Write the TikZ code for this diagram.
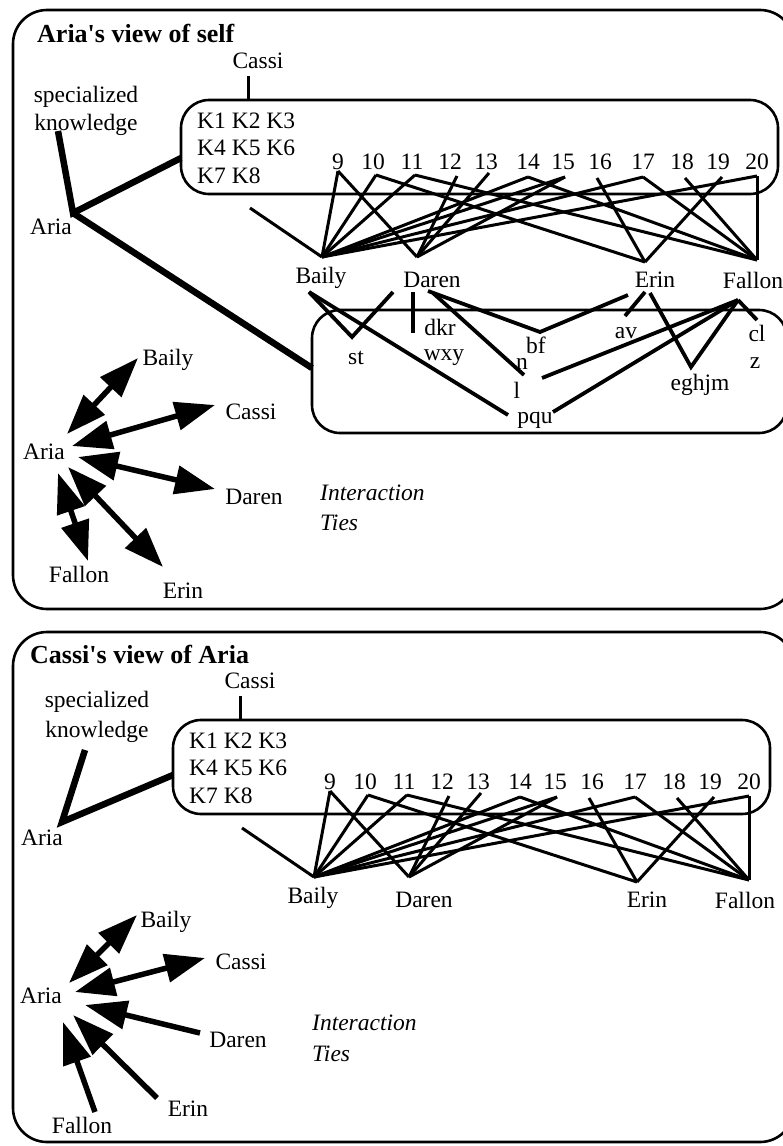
\documentclass[tikz,border=0pt]{standalone}
\usepackage{fontspec}
\setmainfont{Liberation Serif}
\usetikzlibrary{arrows.meta}
\tikzset{
  txt/.style={font=\fontsize{23.5}{26}\selectfont, inner sep=0pt},
  itxt/.style={font=\fontsize{23.5}{26}\selectfont\itshape, inner sep=0pt, anchor=base west},
  ttl/.style={font=\fontsize{26}{28}\selectfont\bfseries, inner sep=0pt, anchor=base west},
  frame/.style={line width=2.6pt, rounded corners=34pt},
  kbox/.style={line width=2.6pt, rounded corners=28pt},
  gline/.style={line width=3pt},
  midline/.style={line width=3.8pt},
  heavy/.style={line width=6.5pt},
  tiearrow/.style={line width=5.5pt, {Triangle[length=40pt,width=28pt]}-{Triangle[length=40pt,width=28pt]}},
  onearrow/.style={line width=5.5pt, -{Triangle[length=42pt,width=28pt]}},
}
\newcommand\kgraph[3]{%
\begin{scope}[shift={(#2,#3)}]
  \node[txt] (#1cassi) at (258,61) {Cassi};
  \coordinate (#1ct) at (248,76);
  \coordinate (#1cb) at (248,100);
  \draw[gline] (#1ct) -- (#1cb);
  \draw[kbox] (181,100) rectangle (778,194);
  \node[txt, anchor=base west] (#1ka) at (197,128) {K1 K2 K3};
  \node[txt, anchor=base west] (#1kb) at (197,155.5) {K4 K5 K6};
  \node[txt, anchor=base west] (#1kc) at (197,183) {K7 K8};
  \foreach \n/\x in {9/338,10/373,11/412,12/450,13/486,14/528,15/563,16/600,17/643,18/682,19/718,20/757}
    \node[txt] (#1n\n) at (\x,162) {\n};
  \coordinate (#1a9) at (338,171);
  \coordinate (#1a10) at (376,175);
  \coordinate (#1a11) at (415,175);
  \coordinate (#1a12) at (457,176);
  \coordinate (#1a13) at (489,173);
  \coordinate (#1a14) at (528,177);
  \coordinate (#1a15) at (565,177);
  \coordinate (#1a16) at (597,178);
  \coordinate (#1a17) at (643,177);
  \coordinate (#1a18) at (685,178);
  \coordinate (#1a19) at (722,177);
  \coordinate (#1a20) at (757,176);
  \coordinate (#1pB) at (322,257);
  \coordinate (#1pD) at (417,257);
  \coordinate (#1pE) at (645,262);
  \coordinate (#1pF) at (757,260);
  \coordinate (#1stub) at (250,208);
  \node[txt] (#1baily) at (321,278) {Baily};
  \node[txt] (#1daren) at (432,280) {Daren};
  \node[txt] (#1erin) at (655,280) {Erin};
  \node[txt] (#1fallon) at (753,280) {Fallon};
  \draw[gline] (#1stub) -- (#1pB);
  \foreach \n/\p in {9/B,10/B,11/B,14/B,15/B,17/B,20/B,9/D,12/D,13/D,15/D,10/E,16/E,19/E,11/F,14/F,17/F,18/F,20/F}
    \draw[gline] (#1a\n) -- (#1p\p);
\end{scope}}
\begin{document}
\begin{tikzpicture}[x=1pt,y=-1pt]
\useasboundingbox (0,0) rectangle (782,1146);
% ---------- top panel ----------
\draw[frame] (13,10) rectangle (794,609);
\node[ttl] (title1) at (37,42) {Aria\textquotesingle s view of self};
\kgraph{t}{0}{0}
\node[txt] (spec1) at (86,97) {specialized};
\node[txt] (know1) at (86,125) {knowledge};
\node[txt] (aria1) at (51,227) {Aria};
\coordinate (ka1) at (58,131);
\coordinate (aa1) at (73,213);
\coordinate (kb1) at (181,158);
\coordinate (lb1) at (312,368);
\draw[heavy] (ka1) -- (aa1) -- (kb1);
\draw[heavy] (aa1) -- (lb1);
% lower box of others' knowledge
\draw[kbox] (312,310) rectangle (787,433);
\node[txt] (st) at (356,358) {st};
\node[txt] (dkr) at (440,327) {dkr};
\node[txt] (wxy) at (444,358) {wxy};
\node[txt] (bf) at (536,345) {bf};
\node[txt] (nn) at (522,364) {n};
\node[txt] (ll) at (517,390) {l};
\node[txt] (av) at (626,333) {av};
\node[txt] (eghjm) at (700,385) {eghjm};
\node[txt] (cl) at (757,333) {cl};
\node[txt] (zz) at (755,363) {z};
\node[txt] (pqu) at (535,420) {pqu};
\coordinate (bb1) at (309,292);
\coordinate (sttip) at (352,337);
\coordinate (db1) at (393,292);
\coordinate (db2) at (413,292);
\coordinate (dkrend) at (413,333);
\coordinate (db3) at (428,291);
\coordinate (db4) at (433,293);
\coordinate (bftip) at (540,332);
\coordinate (eb1) at (628,295);
\coordinate (eb2) at (645,292);
\coordinate (eb3) at (650,293);
\coordinate (avtip) at (625,316);
\coordinate (egtip) at (691,367);
\coordinate (fltip) at (524,375);
\coordinate (fltip2) at (542,378);
\coordinate (pqtip) at (508,415);
\coordinate (pqtip2) at (553,412);
\coordinate (fb) at (738,300);
\coordinate (cltip) at (757,320);
\draw[midline] (bb1) -- (sttip) -- (db1);
\draw[midline] (bb1) -- (pqtip);
\draw[midline] (db2) -- (dkrend);
\draw[midline] (db3) -- (bftip) -- (eb1);
\draw[midline] (db4) -- (fltip);
\draw[midline] (fb) -- (fltip2);
\draw[midline] (eb2) -- (avtip);
\draw[midline] (eb3) -- (egtip) -- (fb);
\draw[midline] (fb) -- (pqtip2);
\draw[midline] (fb) -- (cltip);
% interaction ties
\node[txt] (iaria1) at (44,452) {Aria};
\node[txt] (ibaily1) at (168,360) {Baily};
\node[txt] (icassi1) at (251,412) {Cassi};
\node[txt] (idaren1) at (254,497) {Daren};
\node[txt] (ifallon1) at (79,574) {Fallon};
\node[txt] (ierin1) at (183,591) {Erin};
\node[itxt] (inter1) at (320,500) {Interaction};
\node[itxt] (ties1) at (320,530) {Ties};
\coordinate (tb0) at (67,434); \coordinate (tb1) at (138,358);
\coordinate (tc0) at (72,446); \coordinate (tc1) at (215,405);
\coordinate (td0) at (78,457); \coordinate (td1) at (215,489);
\coordinate (te0) at (68,467); \coordinate (te1) at (163,567);
\coordinate (tf0) at (58,473); \coordinate (tf1) at (88,561);
\draw[tiearrow] (tb0) -- (tb1);
\draw[tiearrow] (tc0) -- (tc1);
\draw[tiearrow] (td0) -- (td1);
\draw[tiearrow] (te0) -- (te1);
\draw[tiearrow] (tf0) -- (tf1);
% ---------- bottom panel ----------
\draw[frame] (13,632) rectangle (794,1142);
\node[ttl] (title2) at (30,663) {Cassi\textquotesingle s view of Aria};
\kgraph{b}{-8}{620}
\node[txt] (spec2) at (97,702) {specialized};
\node[txt] (know2) at (97,732) {knowledge};
\node[txt] (aria2) at (42,838) {Aria};
\coordinate (ka2) at (85,750);
\coordinate (aa2) at (62,822);
\coordinate (kb2) at (173,775);
\draw[heavy] (ka2) -- (aa2) -- (kb2);
\node[txt] (iaria2) at (41,996) {Aria};
\node[txt] (ibaily2) at (166,922) {Baily};
\node[txt] (icassi2) at (241,962) {Cassi};
\node[txt] (idaren2) at (238,1040) {Daren};
\node[txt] (ierin2) at (188,1109) {Erin};
\node[txt] (ifallon2) at (82,1125) {Fallon};
\node[itxt] (inter2) at (312,1030) {Interaction};
\node[itxt] (ties2) at (312,1061) {Ties};
\coordinate (bb0) at (69,983); \coordinate (bb9) at (137,915);
\coordinate (bc0) at (75,992); \coordinate (bc9) at (205,958);
\coordinate (bd0) at (200,1033); \coordinate (bd9) at (85,1005);
\coordinate (be0) at (157,1098); \coordinate (be9) at (73,1015);
\coordinate (bf0) at (95,1112); \coordinate (bf9) at (63,1022);
\draw[tiearrow] (bb0) -- (bb9);
\draw[tiearrow] (bc0) -- (bc9);
\draw[onearrow] (bd0) -- (bd9);
\draw[onearrow] (be0) -- (be9);
\draw[onearrow] (bf0) -- (bf9);
\end{tikzpicture}
\end{document}
